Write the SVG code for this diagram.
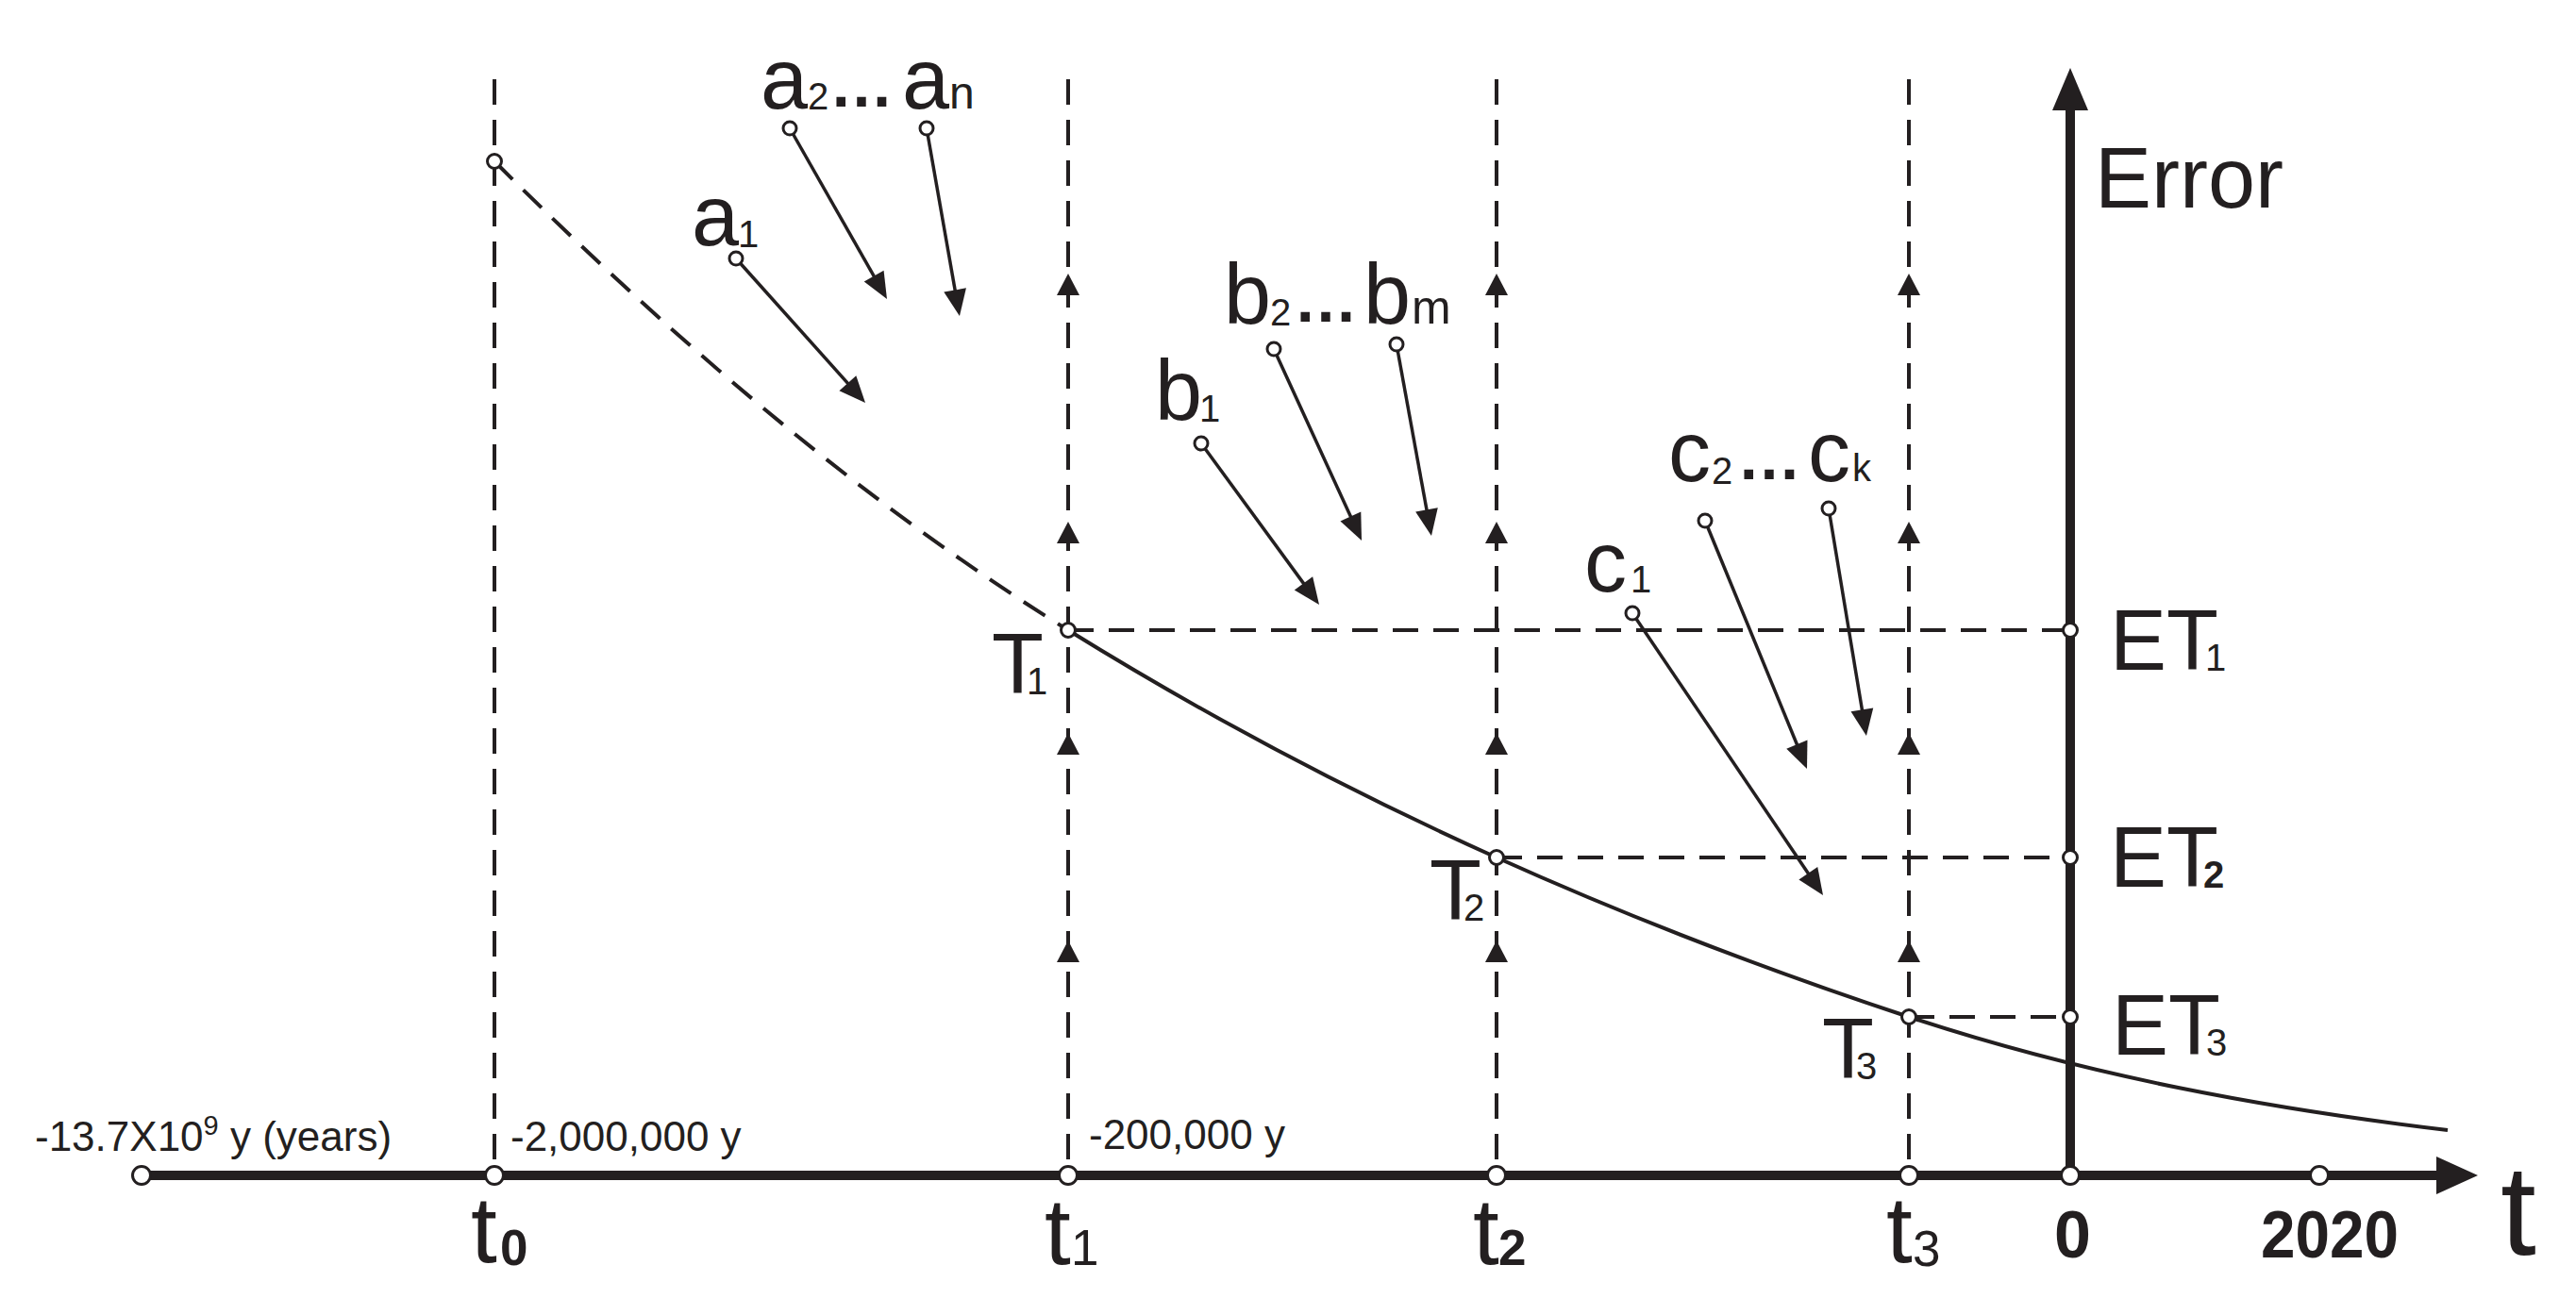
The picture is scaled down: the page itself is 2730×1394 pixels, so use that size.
<svg xmlns="http://www.w3.org/2000/svg" width="2730" height="1394" viewBox="0 0 2730 1394">
<style>
text{font-family:"Liberation Sans",Arial,sans-serif;fill:#231f20}
.m{font-size:90px}
.s{font-size:40px}
.sl{font-size:48px}
.el{font-size:68px;font-weight:bold}
.sm{font-size:44px}
.tl{font-size:100px}
.ts{font-size:53px}
.b{font-weight:bold}
.dash{fill:none;stroke:#231f20;stroke-width:4;stroke-dasharray:27 16}
.curve{fill:none;stroke:#231f20;stroke-width:4}
.arr{stroke:#231f20;stroke-width:3.5;fill:none;marker-end:url(#ah)}
.pt{fill:#fff;stroke:#231f20;stroke-width:3}
.ax{stroke:#231f20;stroke-width:10;fill:none}
.hd{fill:#231f20}
</style>
<defs>
<marker id="ah" markerUnits="userSpaceOnUse" markerWidth="40" markerHeight="30" viewBox="-10 -15 40 30" refX="0" refY="0" orient="auto" overflow="visible">
<path d="M-8,-12 L20,0 L-8,12 Z" fill="#231f20"/>
</marker>
<path id="up" d="M0,0 L12,23 L-12,23 Z" fill="#231f20"/>
</defs>
<rect width="2730" height="1394" fill="#fff"/>

<g id="connectors">
<path class="dash" d="M524,84 V1246 M1132,84 V1246 M1586,84 V1246 M2023,84 V1246"/>
<path class="dash" d="M1132,668 H2194 M1586,909 H2194 M2023,1078 H2194"/>
<path class="dash" d="M524,171 C726.7,373.7 929.3,542.3 1132,668"/>
<path class="curve" d="M1132,668 C1283.3,761.8 1434.7,840.9 1586,909 C1731.7,974.6 1877.3,1029.9 2023,1078 C2213.3,1140.8 2403.7,1175.2 2594,1198"/>
<g id="up-arrows">
<use href="#up" x="1132" y="290"/><use href="#up" x="1132" y="553"/><use href="#up" x="1132" y="777"/><use href="#up" x="1132" y="997"/>
<use href="#up" x="1586" y="290"/><use href="#up" x="1586" y="553"/><use href="#up" x="1586" y="777"/><use href="#up" x="1586" y="997"/>
<use href="#up" x="2023" y="290"/><use href="#up" x="2023" y="553"/><use href="#up" x="2023" y="777"/><use href="#up" x="2023" y="997"/>
</g>
<line class="arr" x1="780" y1="274" x2="903.7" y2="412.1"/>
<line class="arr" x1="837" y1="136" x2="930.1" y2="299.6"/>
<line class="arr" x1="982" y1="136" x2="1013.5" y2="315.3"/>
<line class="arr" x1="1273" y1="470" x2="1386.2" y2="624.9"/>
<line class="arr" x1="1350" y1="370" x2="1434.7" y2="554.8"/>
<line class="arr" x1="1480" y1="365" x2="1513.4" y2="548.3"/>
<line class="arr" x1="1730" y1="650" x2="1920.8" y2="932.4"/>
<line class="arr" x1="1807" y1="552" x2="1907.4" y2="796.5"/>
<line class="arr" x1="1938" y1="539" x2="1974.7" y2="760.3"/>
</g>

<g id="time-axis">
<line class="ax" x1="150" y1="1246" x2="2584" y2="1246"/>
<path class="hd" d="M2582,1226 L2626,1246 L2582,1266 Z"/>
</g>
<g id="error-axis">
<line class="ax" x1="2194" y1="1246" x2="2194" y2="115"/>
<path class="hd" d="M2175,117 L2194,72 L2213,117 Z"/>
<text class="m" x="2220" y="220">Error</text>
</g>

<g id="axis-points">
<circle class="pt" cx="150" cy="1246" r="9.5"/>
<circle class="pt" cx="524" cy="1246" r="9.5"/>
<circle class="pt" cx="1132" cy="1246" r="9.5"/>
<circle class="pt" cx="1586" cy="1246" r="9.5"/>
<circle class="pt" cx="2023" cy="1246" r="9.5"/>
<circle class="pt" cx="2194" cy="1246" r="9.5"/>
<circle class="pt" cx="2458" cy="1246" r="9.5"/>
</g>

<g id="curve-points">
<circle class="pt" cx="524" cy="171" r="7.5"/>
<circle class="pt" cx="1132" cy="668" r="7.5"/>
<circle class="pt" cx="1586" cy="909" r="7.5"/>
<circle class="pt" cx="2023" cy="1078" r="7.5"/>
<circle class="pt" cx="2194" cy="668" r="7.5"/>
<circle class="pt" cx="2194" cy="909" r="7.5"/>
<circle class="pt" cx="2194" cy="1078" r="7.5"/>
</g>

<g id="source-points">
<circle class="pt" cx="780" cy="274" r="7"/>
<circle class="pt" cx="837" cy="136" r="7"/>
<circle class="pt" cx="982" cy="136" r="7"/>
<circle class="pt" cx="1273" cy="470" r="7"/>
<circle class="pt" cx="1350" cy="370" r="7"/>
<circle class="pt" cx="1480" cy="365" r="7"/>
<circle class="pt" cx="1730" cy="650" r="7"/>
<circle class="pt" cx="1807" cy="552" r="7"/>
<circle class="pt" cx="1938" cy="539" r="7"/>
</g>

<g id="node-a">
<text class="m"><tspan x="733" y="260">a</tspan><tspan class="s" x="782" y="262">1</tspan></text>
<text class="m"><tspan x="806" y="115">a</tspan><tspan class="s" x="856" y="116">2</tspan><tspan class="el" x="879" y="113">…</tspan><tspan x="956" y="115">a</tspan><tspan class="sl" x="1006" y="115">n</tspan></text>
</g>
<g id="node-b">
<text class="m"><tspan x="1224" y="445">b</tspan><tspan class="s" x="1271" y="447">1</tspan></text>
<text class="m"><tspan x="1297" y="343">b</tspan><tspan class="s" x="1346" y="345">2</tspan><tspan class="el" x="1371" y="341">…</tspan><tspan x="1445" y="343">b</tspan><tspan style="font-size:50px" x="1496" y="343">m</tspan></text>
</g>
<g id="node-c">
<text class="m"><tspan x="1679" y="627">c</tspan><tspan class="s" x="1728" y="628">1</tspan></text>
<text class="m"><tspan x="1768" y="510">c</tspan><tspan class="s" x="1814" y="513">2</tspan><tspan class="el" x="1841" y="508">…</tspan><tspan x="1916" y="510">c</tspan><tspan style="font-size:40px" x="1963" y="510">k</tspan></text>
</g>

<g id="node-T">
<text class="m"><tspan x="1051" y="735">T</tspan><tspan class="s" x="1088" y="736">1</tspan></text>
<text class="m"><tspan x="1515" y="975">T</tspan><tspan class="s" x="1551" y="976">2</tspan></text>
<text class="m"><tspan x="1931" y="1143">T</tspan><tspan class="s" x="1967" y="1144">3</tspan></text>
</g>
<g id="node-ET">
<text class="m"><tspan x="2236" y="710">ET</tspan><tspan class="s" x="2337" y="711">1</tspan></text>
<text class="m"><tspan x="2236" y="940">ET</tspan><tspan class="s b" x="2335" y="941">2</tspan></text>
<text class="m"><tspan x="2238" y="1118">ET</tspan><tspan class="s" x="2338" y="1119">3</tspan></text>
</g>

<g id="axis-labels">
<text class="sm" x="37" y="1220">-13.7X10<tspan style="font-size:29px" dy="-17">9</tspan><tspan dy="17"> y (years)</tspan></text>
<text class="sm" x="541" y="1220">-2,000,000 y</text>
<text class="sm" x="1154" y="1218">-200,000 y</text>
<text class="tl"><tspan x="499" y="1338">t</tspan><tspan class="ts b" x="530" y="1341">0</tspan></text>
<text class="tl"><tspan x="1107" y="1340">t</tspan><tspan class="ts" x="1135" y="1341">1</tspan></text>
<text class="tl"><tspan x="1561" y="1340">t</tspan><tspan class="ts b" x="1588" y="1341">2</tspan></text>
<text class="tl"><tspan x="1999" y="1338">t</tspan><tspan class="ts" x="2027" y="1342">3</tspan></text>
<text class="b" style="font-size:70px" x="2177" y="1333">0</text>
<text class="b" style="font-size:70px" x="2396" y="1333" textLength="146" lengthAdjust="spacingAndGlyphs">2020</text>
<text style="font-size:136px" x="2650" y="1330">t</text>
</g>
</svg>
